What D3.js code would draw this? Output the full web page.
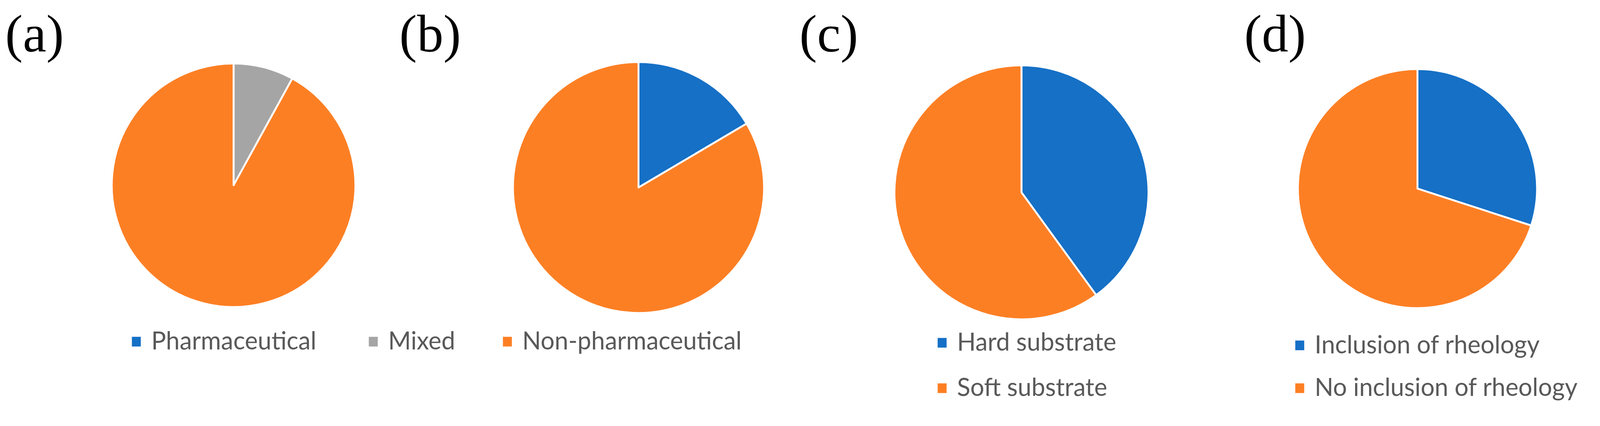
<!DOCTYPE html>
<html>
<head>
<meta charset="utf-8">
<script src="https://cdn.jsdelivr.net/npm/d3@7"></script>
<style>
  html, body { margin: 0; padding: 0; background: #fff; overflow: hidden; }
  #chart { display: block; width: 100vw; height: 100vh; }
</style>
</head>
<body>
<svg id="chart" viewBox="0 0 4295 1091" preserveAspectRatio="xMidYMid meet"></svg>
<script>
// values (percent)
const panelLabels = ['(a)', '(b)', '(c)', '(d)'];
const catsA = ['Pharmaceutical', 'Mixed', 'Non-pharmaceutical'];
const valsA = [0, 8, 92];
const catsB = ['Pharmaceutical', 'Non-pharmaceutical'];
const valsB = [16.5, 83.5];
const catsC = ['Hard substrate', 'Soft substrate'];
const valsC = [40, 60];
const catsD = ['Inclusion of rheology', 'No inclusion of rheology'];
const valsD = [30, 70];

const colors = { blue: '#1570c6', gray: '#a5a5a5', orange: '#fd7f24' };
const colA = [colors.blue, colors.gray, colors.orange];
const colB = [colors.blue, colors.orange];

const svg = d3.select('#chart');
const pie = d3.pie().sort(null).value(d => d);

// panel layout
const panels = [
  { vals: valsA, cols: colA, cx: 627, cy: 471, r: 327, lx: 14 },
  { vals: valsB, cols: colB, cx: 1714, cy: 477, r: 337, lx: 1072 },
  { vals: valsC, cols: colB, cx: 2742, cy: 490, r: 341, lx: 2146 },
  { vals: valsD, cols: colB, cx: 3805, cy: 480, r: 321, lx: 3340 }
];

panels.forEach(function(p, i){
  const arc = d3.arc().innerRadius(0).outerRadius(p.r);
  const g = svg.append('g').attr('transform', `translate(${p.cx},${p.cy})`);
  g.selectAll('path')
    .data(pie(p.vals).filter(d => d.value > 0))
    .enter().append('path')
    .attr('d', arc)
    .attr('fill', (d) => p.cols[d.index])
    .attr('stroke', '#fff')
    .attr('stroke-width', 5)
    .attr('stroke-linejoin', 'round');

  svg.append('text')
    .attr('x', p.lx).attr('y', 112)
    .attr('font-family', 'Liberation Serif, serif')
    .attr('font-size', 142)
    .attr('fill', '#000')
    .text(panelLabels[i]);
});

// legends
function legendItem(x, y, color, label){
  svg.append('rect')
    .attr('x', x).attr('y', y - 34)
    .attr('width', 24).attr('height', 26)
    .attr('fill', color);
  svg.append('text')
    .attr('x', x + 52).attr('y', y)
    .attr('font-family', 'Lato, sans-serif')
    .attr('font-size', 66)
    .attr('fill', '#595959')
    .text(label);
}

const legAx = [354, 990, 1350];
catsA.forEach((c, i) => legendItem(legAx[i], 912, colA[i], c));

catsC.forEach((c, i) => legendItem(2517, [915, 1037][i], colB[i], c));
catsD.forEach((c, i) => legendItem(3477, [922, 1037][i], colB[i], c));
</script>
</body>
</html>
